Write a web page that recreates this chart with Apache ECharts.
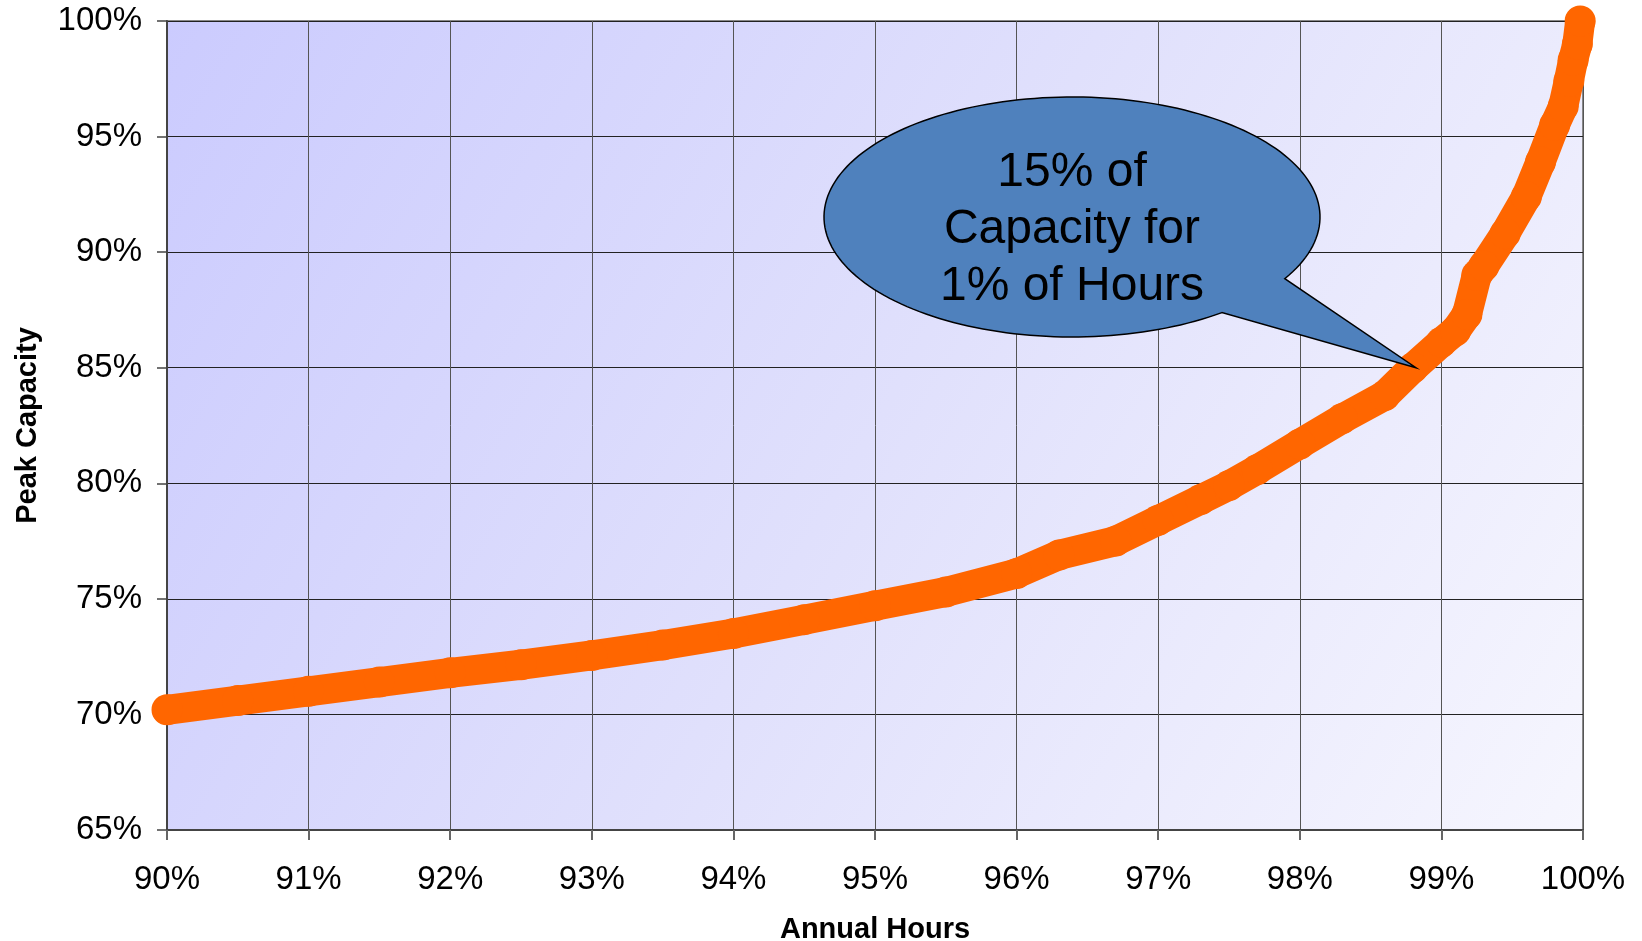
<!DOCTYPE html>
<html>
<head>
<meta charset="utf-8">
<script src="https://cdn.jsdelivr.net/npm/echarts@6/dist/echarts.min.js"></script>
<style>
html,body{margin:0;padding:0;background:#fff;}
#chart{width:1642px;height:941px;}
</style>
</head>
<body>
<div id="chart"></div>
<script>
// Annual hours (percent of year, sorted) — x values
var hoursPct = [90.0, 90.5, 91.0, 91.5, 92.0, 92.5, 93.0, 93.5, 94.0, 94.5, 95.0, 95.5, 96.0, 96.3, 96.7, 97.0, 97.3, 97.5, 97.7, 98.0, 98.3, 98.6, 98.8, 99.0, 99.1, 99.18, 99.25, 99.3, 99.45, 99.6, 99.7, 99.8, 99.86, 99.9, 99.93, 99.96, 99.98];
// Peak capacity (percent) — y values
var capacityPct = [70.2, 70.6, 71.0, 71.4, 71.8, 72.15, 72.55, 73.0, 73.5, 74.1, 74.7, 75.3, 76.1, 76.9, 77.5, 78.4, 79.3, 79.9, 80.6, 81.7, 82.8, 83.8, 85.0, 86.1, 86.6, 87.3, 89.0, 89.4, 90.8, 92.4, 93.9, 95.5, 96.3, 97.4, 98.3, 99.0, 100.0];
var xTicks = ['90%','91%','92%','93%','94%','95%','96%','97%','98%','99%','100%'];
var yTicks = ['65%','70%','75%','80%','85%','90%','95%','100%'];
var calloutLines = ['15% of', 'Capacity for', '1% of Hours'];
var calloutAnchor = [98.82, 85.0];

var seriesData = hoursPct.map(function(x, i){ return [x, capacityPct[i]]; });
var FONT = '"Liberation Sans", Arial, sans-serif';

var chart = echarts.init(document.getElementById('chart'), null, {renderer: 'canvas'});
var option = {
  animation: false,
  backgroundColor: '#ffffff',
  grid: {
    left: 167, top: 21, right: 59, bottom: 111,
    outerBoundsMode: 'none',
    containLabel: false,
    show: true,
    borderColor: '#888888',
    borderWidth: 2,
    backgroundColor: {
      type: 'linear', x: 0, y: 0, x2: 1, y2: 1,
      colorStops: [
        {offset: 0, color: '#cbcbfe'},
        {offset: 0.5, color: '#e0e0fc'},
        {offset: 1, color: '#f6f6fe'}
      ]
    }
  },
  xAxis: {
    type: 'value', min: 90, max: 100, interval: 1,
    name: 'Annual Hours', nameLocation: 'middle', nameGap: 85,
    nameTextStyle: {fontFamily: FONT, fontSize: 29, fontWeight: 'bold', color: '#000'},
    axisLine: {show: true, onZero: false, lineStyle: {color: '#444', width: 2}},
    axisTick: {show: true, inside: false, length: 10, lineStyle: {color: '#666', width: 2}},
    axisLabel: {
      margin: 33, fontFamily: FONT, fontSize: 33, color: '#000',
      formatter: function(v){ return xTicks[Math.round(v - 90)]; }
    },
    splitLine: {show: true, lineStyle: {color: '#555', width: 1}}
  },
  yAxis: {
    type: 'value', min: 65, max: 100, interval: 5,
    name: 'Peak Capacity', nameLocation: 'middle', nameGap: 125, nameRotate: 90,
    nameTextStyle: {fontFamily: FONT, fontSize: 29, fontWeight: 'bold', color: '#000'},
    axisLine: {show: true, onZero: false, lineStyle: {color: '#444', width: 2}},
    axisTick: {show: true, inside: false, length: 10, lineStyle: {color: '#444', width: 1.5}},
    axisLabel: {
      margin: 25, fontFamily: FONT, fontSize: 33, color: '#000',
      formatter: function(v){ return yTicks[Math.round((v - 65) / 5)]; }
    },
    splitLine: {show: true, lineStyle: {color: '#222', width: 1}}
  },
  series: [{
    type: 'line',
    data: seriesData,
    clip: false,
    smooth: false,
    symbol: 'circle',
    symbolSize: 31,
    showAllSymbol: true,
    itemStyle: {color: '#ff6600', borderWidth: 0},
    lineStyle: {color: '#ff6600', width: 30, cap: 'round', join: 'round'},
    z: 3
  }]
};
chart.setOption(option);

// Callout balloon (annotation) — tip anchored to a data position
var tip = chart.convertToPixel({gridIndex: 0}, calloutAnchor);
var cx = 1072, cy = 217, rx = 248, ry = 120;
var b1 = [1221, 312], b2 = [1286, 279];
var a1 = Math.atan2((b1[1] - cy) / ry, (b1[0] - cx) / rx);
var a2 = Math.atan2((b2[1] - cy) / ry, (b2[0] - cx) / rx);
var end = a2;
while (end <= a1) end += Math.PI * 2;
var pts = [];
var N = 180;
for (var i = 0; i <= N; i++) {
  var t = a1 + (end - a1) * i / N;
  pts.push([cx + rx * Math.cos(t), cy + ry * Math.sin(t)]);
}
pts.push([tip[0], tip[1]]);

chart.setOption({
  graphic: [
    {
      type: 'polygon', z: 100,
      shape: {points: pts},
      style: {fill: '#4f81bd', stroke: '#000', lineWidth: 1.5, lineJoin: 'miter'}
    },
    {
      type: 'text', z: 101,
      x: cx, y: 230,
      style: {
        text: calloutLines.join('\n'),
        fontFamily: FONT, fontSize: 48, lineHeight: 57,
        fill: '#000', align: 'center', verticalAlign: 'middle'
      }
    }
  ]
});
</script>
</body>
</html>
